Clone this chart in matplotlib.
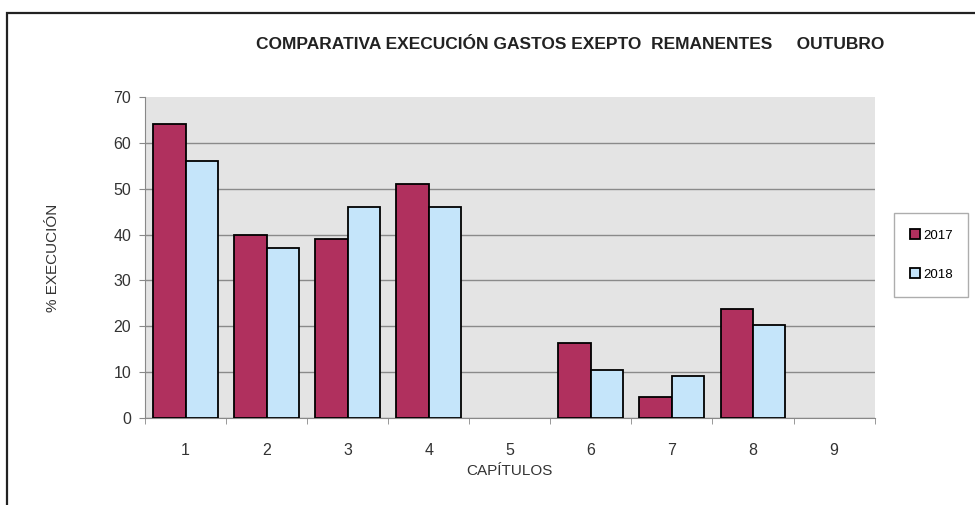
import numpy as np
import matplotlib.pyplot as plt
from matplotlib.patches import Rectangle

capitulos = ['1', '2', '3', '4', '5', '6', '7', '8', '9']
vals_2017 = [64, 40, 39, 51, 0, 16.3, 4.7, 23.8, 0]
vals_2018 = [56, 37, 46, 46, 0, 10.6, 9.2, 20.3, 0]
series = ['2017', '2018']

plt.rcParams['font.family'] = ['Liberation Sans', 'DejaVu Sans']

fig = plt.figure(figsize=(9.75, 5.05), dpi=100)
ax = fig.add_axes([0.1487, 0.172, 0.7483, 0.636])

# outer frame of the chart object
fig.patches.append(Rectangle((0.007, -0.05), 1.1, 1.024, transform=fig.transFigure,
                             fill=False, ec='#222222', lw=1.6))

x = np.arange(len(capitulos))
w = 0.4
# no outline for empty chapters (5, 9)
lw17 = [1.3 if v > 0 else 0 for v in vals_2017]
lw18 = [1.3 if v > 0 else 0 for v in vals_2018]
ax.bar(x - w / 2, vals_2017, w, color='#b0305e', edgecolor='black', lw=lw17, label=series[0], zorder=3)
ax.bar(x + w / 2, vals_2018, w, color='#c5e5fa', edgecolor='black', lw=lw18, label=series[1], zorder=3)

ax.set_facecolor('#e4e4e4')
ax.set_xlim(-0.5, len(capitulos) - 0.5)
ax.set_ylim(0, 70)
ax.set_yticks(range(0, 71, 10))
ax.yaxis.grid(True, color='#8a8a8a', lw=1.0, zorder=1)
ax.get_ygridlines()[-1].set_visible(False)
ax.set_xticks(x)
ax.set_xticklabels(capitulos)
ax.set_xticks(np.arange(-0.5, len(capitulos), 1), minor=True)
ax.tick_params(axis='x', which='major', length=0, pad=18, labelsize=11.5, colors='#333333')
ax.tick_params(axis='x', which='minor', length=4, color='#888888')
ax.tick_params(axis='y', length=4, color='#888888', labelsize=11.5, labelcolor='#333333', pad=6)

for s in ['top', 'right']:
    ax.spines[s].set_visible(False)
ax.spines['left'].set_color('#888888')
ax.spines['bottom'].set_color('#888888')

ax.set_xlabel('CAPÍTULOS', fontsize=11, color='#333333', labelpad=4)
ax.set_ylabel('% EXECUCIÓN', fontsize=11, color='#333333', labelpad=38)
fig.text(0.585, 0.912, 'COMPARATIVA EXECUCIÓN GASTOS EXEPTO  REMANENTES     OUTUBRO',
         ha='center', va='center', fontsize=12.5, fontweight='bold', color='#222222')

leg = fig.legend(loc='center left', bbox_to_anchor=(0.91, 0.495), fontsize=9.5,
                 frameon=True, fancybox=False, edgecolor='#999999', handlelength=0.8,
                 handleheight=0.8, handletextpad=0.2, labelspacing=2.0, borderpad=1.2)
leg.get_frame().set_linewidth(1.0)

fig.savefig('out.png', dpi=100, facecolor='white')
